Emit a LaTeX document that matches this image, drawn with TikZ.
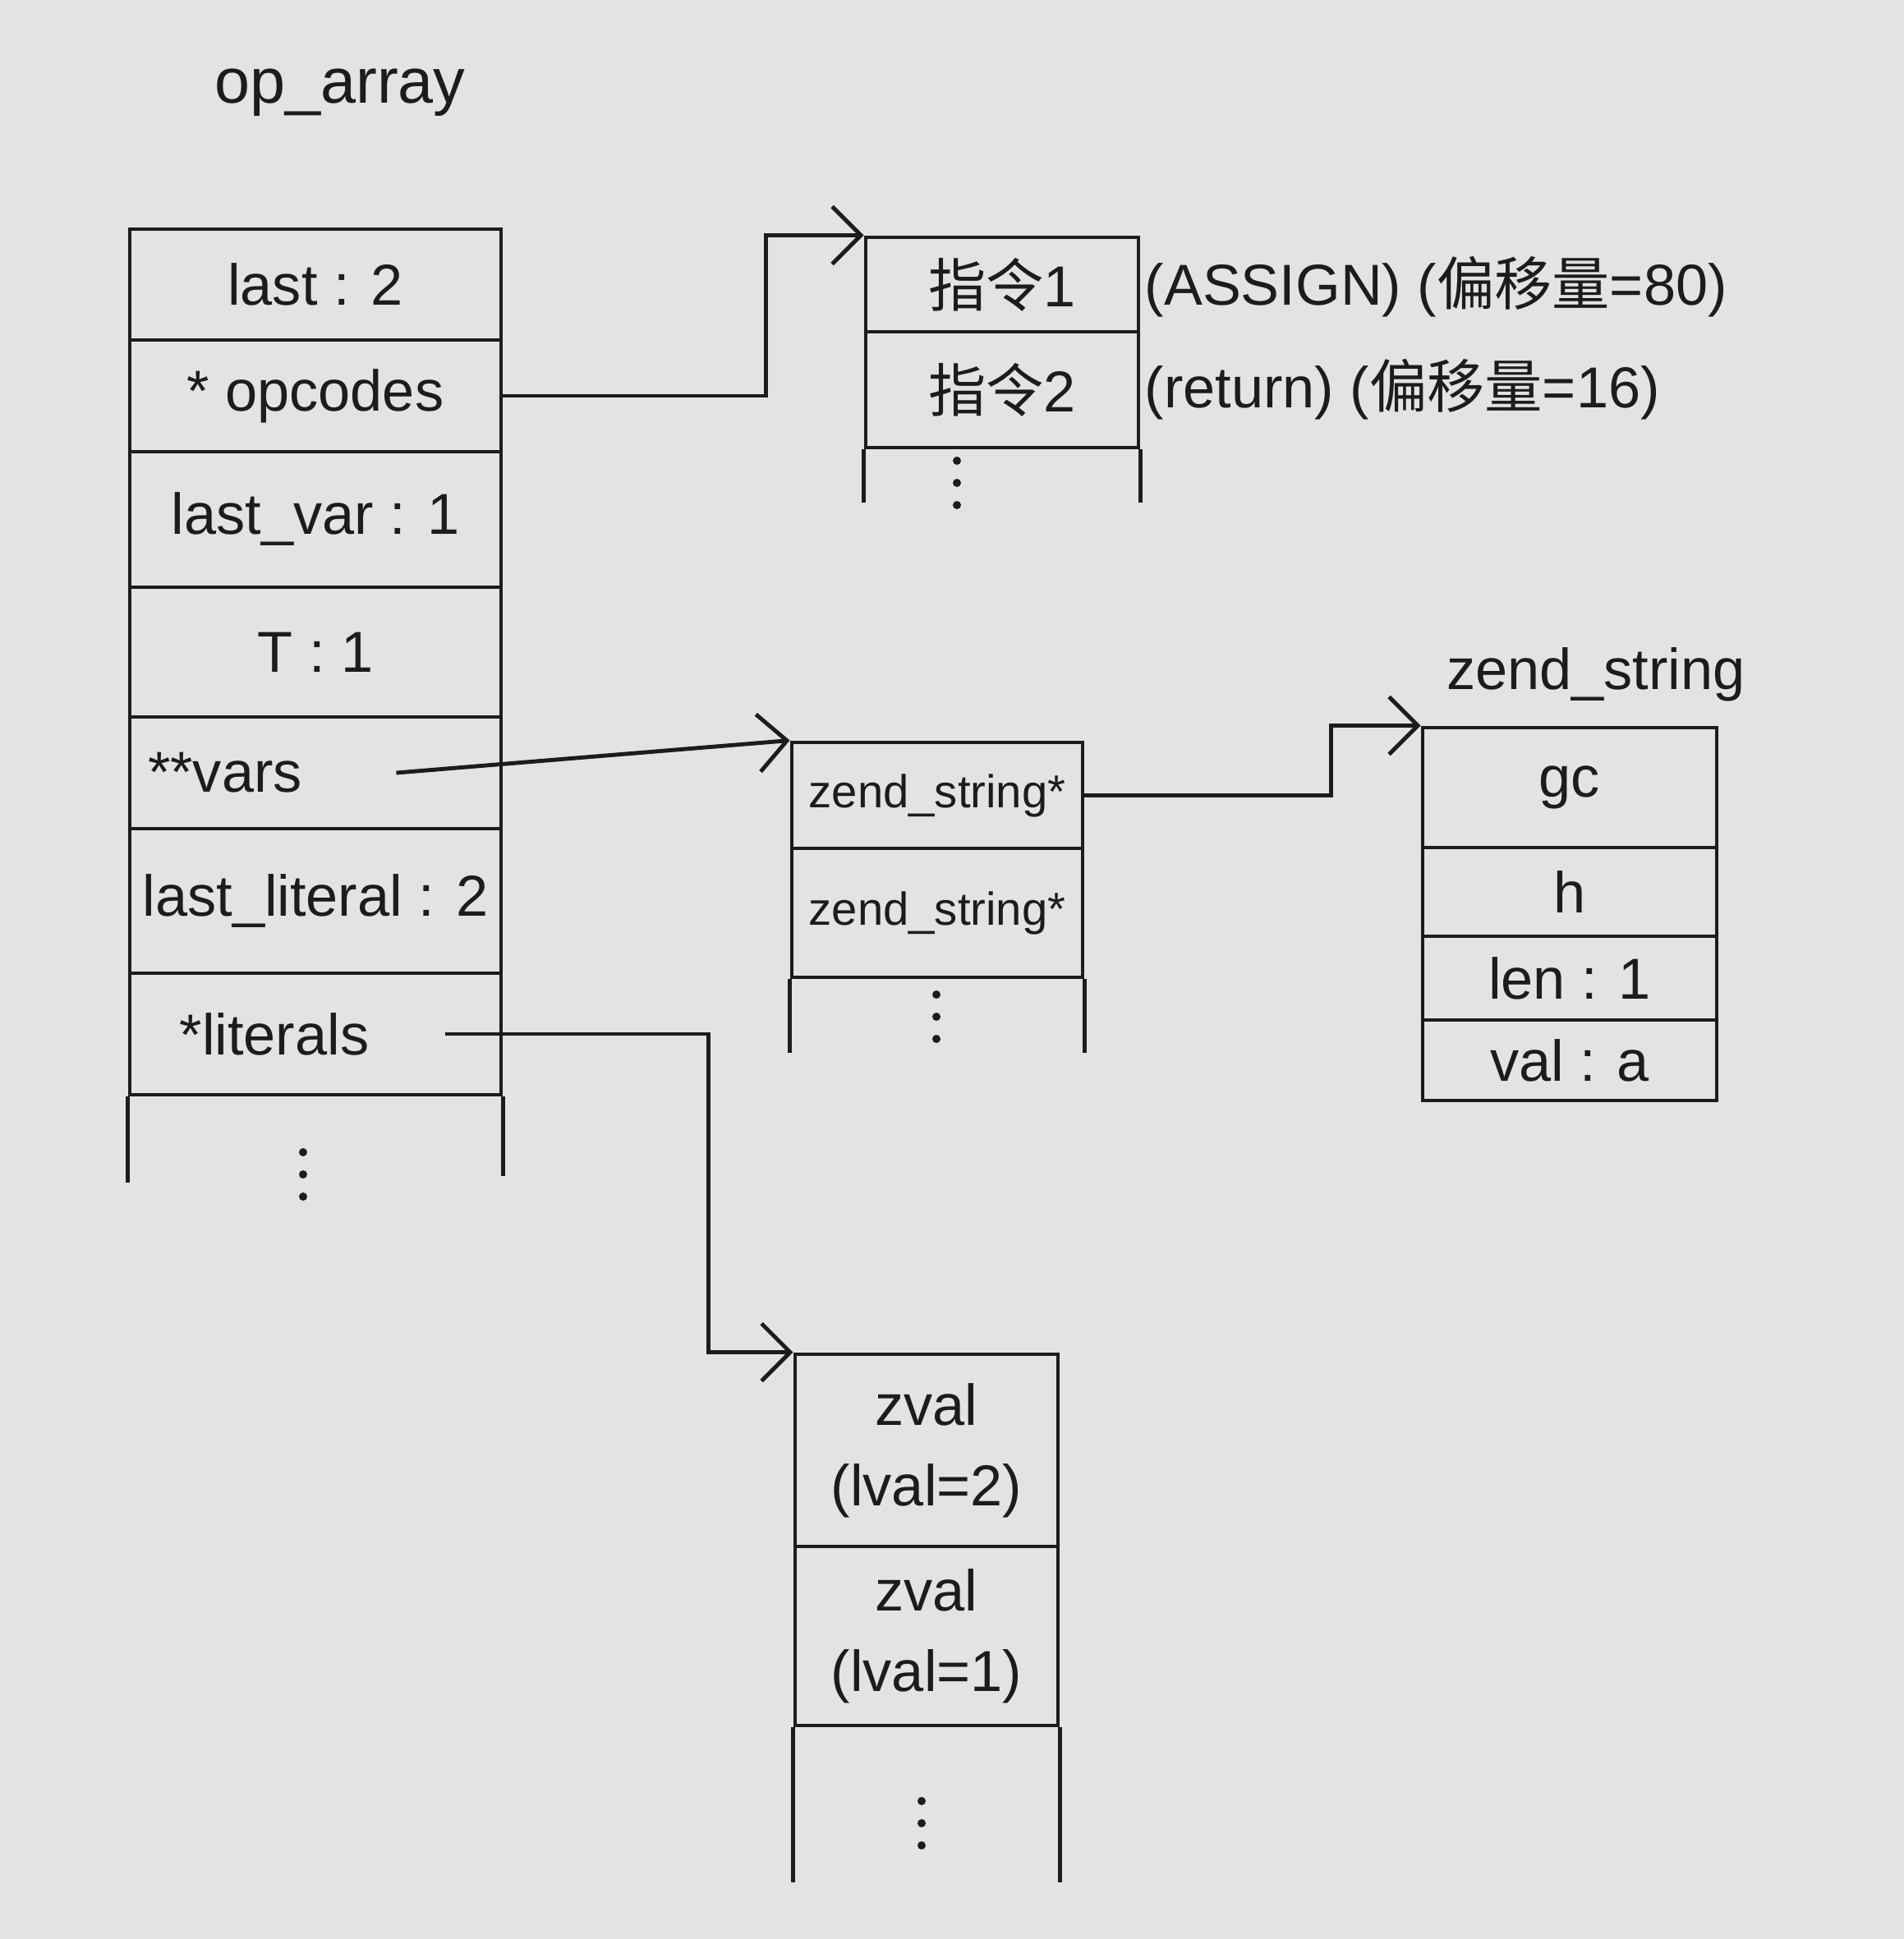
\documentclass[tikz,border=0pt]{standalone}
\usepackage{fontspec}
\setmainfont{Liberation Sans}
\newfontfamily\cjk{Noto Sans CJK SC}
\usetikzlibrary{arrows.meta}

\definecolor{paper}{HTML}{E3E3E1}
\definecolor{ink}{HTML}{1C1C1C}

\begin{document}
\begin{tikzpicture}[
  x=1cm, y=1cm, font=\fontsize{20}{24}\selectfont,
  cell/.style={rectangle, draw=ink, line width=1.4pt, inner sep=0pt,
               align=center, text=ink},
  opcell/.style={cell, minimum width=4.52cm},
  inscell/.style={cell, minimum width=3.32cm},
  ptrcell/.style={cell, minimum width=3.54cm, font=\fontsize{16}{19}\selectfont},
  strcell/.style={cell, minimum width=3.58cm},
  zvcell/.style={cell, minimum width=3.20cm, font=\fontsize{20}{28}\selectfont},
  side/.style={draw=ink, line width=1.4pt},
  title/.style={text=ink, inner sep=0pt, font=\fontsize{22}{26}\selectfont},
  note/.style={text=ink, anchor=west, inner sep=0pt},
  ptr/.style={draw=ink, line width=1.4pt,
              -{Straight Barb[length=3.5mm,width=7mm]}},
  etc/.pic={\foreach \k in {-1,0,1} \fill[ink] (0,\k*0.27) circle (0.05);}]

  \fill[paper] (0,0) rectangle (23.18,-23.61);

  % ---- op_array ---------------------------------------------------------
  \node[title] (optitle) at (4.14,-1.13) {op\_array};
  \foreach \n/\y/\h/\t in {last/3.465/1.35/{last : 2}, opc/4.82/1.36/{* opcodes},
      lvar/6.325/1.65/{last\_var : 1}, tmp/7.94/1.58/{T : 1},
      vars/9.41/1.36/{**vars\hspace*{2.2cm}}, llit/10.97/1.76/{last\_literal : 2},
      lits/12.59/1.48/{*literals\hspace*{1.0cm}}} {
    \node[opcell, minimum height=\h cm] (\n) at (3.84,-\y) {\t};
  }
  \draw[side] (lits.south west) -- ++(0,-1.05) (lits.south east) -- ++(0,-0.97);
  \pic at (3.69,-14.30) {etc};

  % ---- opcodes ----------------------------------------------------------
  \node[inscell, minimum height=1.15cm] (ins1) at (12.20,-3.465) {{\cjk 指令}1};
  \node[inscell, minimum height=1.41cm] (ins2) at (12.20,-4.745) {{\cjk 指令}2};
  \draw[side] (ins2.south west) -- ++(0,-0.65) (ins2.south east) -- ++(0,-0.65);
  \pic at (11.65,-5.88) {etc};

  \node[note] (note1) at (13.93,-3.49) {(ASSIGN) ({\cjk 偏移量}=80)};
  \node[note] (note2) at (13.93,-4.74) {(return) ({\cjk 偏移量}=16)};

  % ---- vars -------------------------------------------------------------
  \node[ptrcell, minimum height=1.29cm] (zs1) at (11.41,-9.685) {zend\_string*};
  \node[ptrcell, minimum height=1.57cm] (zs2) at (11.41,-11.115) {zend\_string*};
  \draw[side] (zs2.south west) -- ++(0,-0.90) (zs2.south east) -- ++(0,-0.90);
  \pic at (11.40,-12.38) {etc};

  % ---- zend_string ------------------------------------------------------
  \node[title, font=\fontsize{20}{24}\selectfont] (strtitle) at (19.43,-8.21) {zend\_string};
  \foreach \n/\y/\h/\t in {gc/9.59/1.46/gc, hash/10.86/1.08/h,
      len/11.91/1.02/{len : 1}, val/12.91/0.98/{val : a}} {
    \node[strcell, minimum height=\h cm] (\n) at (19.11,-\y) {\t};
  }

  % ---- literals ---------------------------------------------------------
  \node[zvcell, minimum height=2.34cm] (zv1) at (11.28,-17.66) {zval\\(lval=2)};
  \node[zvcell, minimum height=2.18cm] (zv2) at (11.28,-19.92) {zval\\(lval=1)};
  \draw[side] (zv2.south west) -- ++(0,-1.89) (zv2.south east) -- ++(0,-1.89);
  \pic at (11.22,-22.20) {etc};

  % ---- pointers ---------------------------------------------------------
  \draw[ptr] (opc.east) -- ++(3.2,0) |- (ins1.north west);
  \draw[ptr] ([xshift=-1.3cm]vars.east) -- (zs1.north west);
  \draw[ptr] (zs1.east) -- ++(3.0,0) |- (gc.north west);
  \draw[ptr] ([xshift=-0.7cm]lits.east) -- ++(3.2,0) |- (zv1.north west);
\end{tikzpicture}
\end{document}
